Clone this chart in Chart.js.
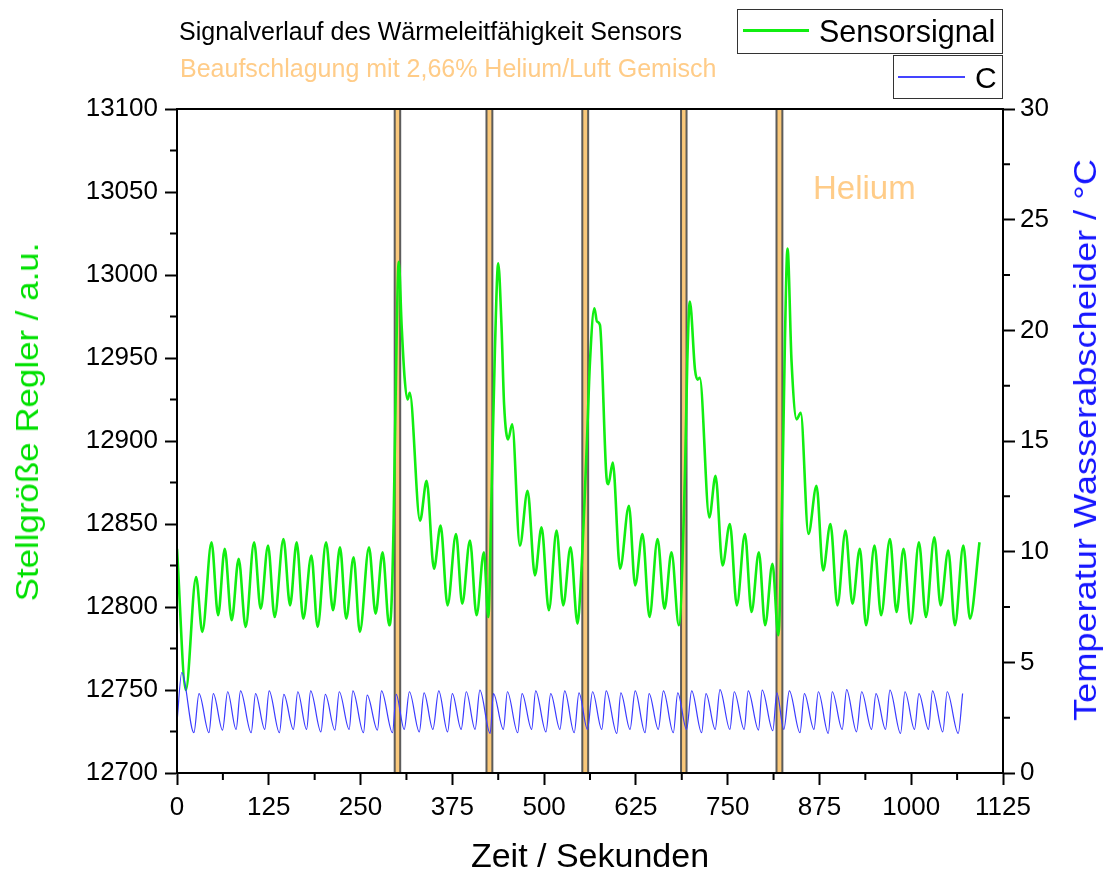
<!DOCTYPE html>
<html>
<head>
<meta charset="utf-8">
<script src="https://cdn.jsdelivr.net/npm/chart.js@4/dist/chart.umd.min.js"></script>
<style>
html,body{margin:0;padding:0;background:#fff;overflow:hidden;}
#wrap{position:relative;width:1104px;height:875px;font-family:"Liberation Sans",Arial,sans-serif;}
#c{position:absolute;left:0;top:0;}
.t{position:absolute;white-space:nowrap;line-height:1;}
.box{position:absolute;border:1.5px solid #333;background:#fff;box-sizing:border-box;}
.ln{position:absolute;}
</style>
</head>
<body>
<div id="wrap">
<canvas id="c" width="1104" height="875"></canvas>
<div class="t" style="left:179px;top:19px;font-size:25px;color:#000;">Signalverlauf des Wärmeleitfähigkeit Sensors</div>
<div class="t" style="left:180px;top:56px;font-size:25px;color:#ffcc88;">Beaufschlagung mit 2,66% Helium/Luft Gemisch</div>
<div class="box" style="left:737px;top:9px;width:266px;height:45px;"></div>
<div class="ln" style="left:743px;top:29px;width:66px;height:3px;background:#11ee11;"></div>
<div class="t" style="left:819px;top:16px;font-size:30.5px;color:#000;">Sensorsignal</div>
<div class="box" style="left:893px;top:55px;width:110px;height:44px;"></div>
<div class="ln" style="left:898px;top:76px;width:67px;height:1.5px;background:#4444ff;"></div>
<div class="t" style="left:975px;top:63px;font-size:30px;color:#000;">C</div>
<div class="t" style="left:813px;top:171px;font-size:33px;color:#ffcc88;">Helium</div>
<div class="t" style="left:27px;top:422px;font-size:32px;color:#00e000;transform:translate(-50%,-50%) rotate(-90deg) scale(1.09,1);">Stellgröße Regler / a.u.</div>
<div class="t" style="left:1085px;top:440px;font-size:32px;color:#1515ff;transform:translate(-50%,-50%) rotate(-90deg) scale(1.13,1);">Temperatur Wasserabscheider / °C</div>
</div>
<script>
// ---- data ----
const signalTime = [0, 12, 26, 34.5, 47, 56, 65, 74.5, 84, 93.5, 105, 114, 124, 133, 145, 154, 163, 172, 183, 191.5, 203, 212.5, 222, 230.5, 240.5, 249, 261.5, 270.5, 280, 289,
  292, 295, 299, 302, 306, 310, 314, 317, 331, 340, 350, 359, 368.5, 380, 388.5, 399, 408, 418, 424,
  428.5, 433, 437.5, 442, 445.5, 451, 456.5, 467, 477.5, 487.5, 496.5, 506.5, 517, 526, 536, 545.5,
  550, 558, 562.5, 568.5, 572, 576, 585, 587.5, 593.5, 603.5, 615.5, 624, 634, 643.5, 654.5, 664, 673.5, 683.5,
  692, 695, 698.5, 705.5, 709, 712, 725, 733.5, 743, 753, 762.5, 773.5, 782.5, 792.5, 801, 811, 819,
  825, 828, 831.5, 837, 844, 849.5, 860, 871, 880, 890, 899.5, 910.5, 920, 930, 938.5, 950, 959, 971, 980,
  989.5, 999.5, 1010.5, 1020, 1031.5, 1040, 1050.5, 1059.5, 1071, 1080, 1093];
const signalValue = [12835, 12750, 12818, 12785, 12839, 12795, 12835, 12792, 12829, 12788, 12839, 12799, 12837, 12794, 12841, 12801, 12839, 12793, 12831, 12788, 12839, 12798, 12836, 12793, 12830, 12785, 12836, 12796, 12833, 12789,
  12800, 12850, 12960, 13008, 12969, 12938, 12925, 12929, 12852, 12876, 12823, 12849, 12801, 12844, 12802, 12840, 12795, 12833, 12794,
  12870, 12955, 13007, 12969, 12922, 12901, 12910, 12837, 12870, 12819, 12848, 12798, 12846, 12801, 12836, 12790,
  12815, 12896, 12948, 12980, 12972, 12970, 12878, 12874, 12887, 12823, 12861, 12813, 12844, 12794, 12841, 12799, 12833, 12789,
  12883, 12948, 12984, 12943, 12937, 12938, 12854, 12879, 12825, 12850, 12801, 12844, 12797, 12833, 12789, 12826, 12783,
  12883, 12961, 13016, 12948, 12913, 12917, 12844, 12873, 12822, 12850, 12801, 12846, 12802, 12835, 12789, 12837, 12795, 12841, 12797,
  12835, 12790, 12839, 12794, 12842, 12801, 12834, 12789, 12837, 12793, 12839];

const tempTime = [0, 6.5, 23, 30, 43.5, 49.5, 62, 69, 80.5, 86.5, 101, 107, 119.5, 125.5, 139.5, 145.5, 158.5, 164.5, 176.5, 182,
  196, 202, 215, 221, 234.5, 239.5, 254, 259, 273, 278.5, 293.5, 298.5, 309.5, 316.5, 330, 336.5, 348.5, 356.5, 368.5, 375,
  387, 394, 406, 412.5, 426.5, 431, 444.5, 450, 464, 470, 483, 488.5, 502.5, 509, 521.5, 528, 541, 547.5, 559, 566,
  578.5, 584.5, 599, 604.5, 617, 624, 637.5, 643, 655.5, 662.5, 676, 682, 694, 701, 714.5, 720.5, 733, 739.5, 753, 759,
  772.5, 778, 792, 797, 811.5, 817, 826.5, 834, 848.5, 854.5, 867.5, 873.5, 887, 892.5, 906, 912, 925.5, 932.5, 946, 952,
  965, 971, 985.5, 991.5, 1004.5, 1010.5, 1023.5, 1029, 1043, 1049, 1064, 1070];
const tempValue = [2.3, 4.54, 1.82, 3.59, 1.82, 3.59, 1.94, 3.67, 1.97, 3.71, 1.82, 3.59, 1.97, 3.71, 1.82, 3.55, 1.97, 3.67, 1.97, 3.71,
  1.86, 3.55, 1.94, 3.67, 1.97, 3.71, 1.82, 3.52, 1.94, 3.71, 1.82, 3.55, 1.97, 3.67, 1.86, 3.62, 1.97, 3.71, 1.86, 3.59,
  1.97, 3.67, 1.97, 3.74, 1.79, 3.59, 1.97, 3.67, 1.82, 3.59, 1.97, 3.71, 1.86, 3.59, 1.97, 3.71, 1.82, 3.62, 1.97, 3.67,
  1.97, 3.71, 1.79, 3.62, 1.97, 3.71, 1.82, 3.59, 1.97, 3.71, 1.82, 3.62, 1.97, 3.71, 1.82, 3.59, 1.97, 3.77, 1.97, 3.67,
  1.97, 3.71, 1.94, 3.74, 1.91, 3.62, 1.97, 3.71, 1.82, 3.59, 1.97, 3.67, 1.79, 3.67, 1.97, 3.77, 1.86, 3.67, 1.97, 3.59,
  1.97, 3.74, 1.79, 3.67, 1.97, 3.59, 1.97, 3.71, 1.86, 3.67, 1.79, 3.59];

const heliumStart = [296.5, 421.5, 552, 686.5, 816.5];
const heliumEnd   = [304, 429.5, 560, 694, 824.5];

const xTicks = [0, 125, 250, 375, 500, 625, 750, 875, 1000, 1125];
const yLeftTicks = [12700, 12750, 12800, 12850, 12900, 12950, 13000, 13050, 13100];
const yRightTicks = [0, 5, 10, 15, 20, 25, 30];

// ---- chart ----
const FAM = '"Liberation Sans", Arial, sans-serif';
const pts = (xs, ys) => xs.map((x, i) => ({x: x, y: ys[i]}));
const mids = arr => arr.slice(1).map((v, i) => (v + arr[i]) / 2);
const yMin = yLeftTicks[0], yMax = yLeftTicks[yLeftTicks.length - 1];

const heliumSets = heliumStart.map((s, i) => ({
  type: 'line', label: 'Helium', yAxisID: 'y', order: 10,
  data: [{x: s, y: yMin}, {x: s, y: yMax}, {x: heliumEnd[i], y: yMax}, {x: heliumEnd[i], y: yMin}],
  borderColor: 'rgba(75,75,75,0.9)', borderWidth: 2, backgroundColor: '#f9c87a',
  fill: 'start', tension: 0, pointRadius: 0
}));

const framePlugin = {
  id: 'frame',
  afterDatasetsDraw(chart) {
    const {ctx, chartArea: a, scales} = chart;
    ctx.save();
    ctx.strokeStyle = '#000';
    ctx.lineWidth = 2;
    ctx.strokeRect(a.left, a.top, a.right - a.left, a.bottom - a.top);
    ctx.beginPath();
    mids(xTicks).forEach(v => { const p = scales.x.getPixelForValue(v); ctx.moveTo(p, a.bottom); ctx.lineTo(p, a.bottom + 7); });
    mids(yLeftTicks).forEach(v => { const p = scales.y.getPixelForValue(v); ctx.moveTo(a.left, p); ctx.lineTo(a.left - 7, p); });
    mids(yRightTicks).forEach(v => { const p = scales.y2.getPixelForValue(v); ctx.moveTo(a.right, p); ctx.lineTo(a.right + 7, p); });
    ctx.stroke();
    ctx.restore();
  }
};

const gridOpts = {drawOnChartArea: false, drawTicks: true, tickLength: 12, tickWidth: 2, tickColor: '#000'};
const borderOpts = {display: true, color: '#000', width: 2};

new Chart(document.getElementById('c'), {
  type: 'line',
  data: {
    datasets: [
      {label: 'Sensorsignal', yAxisID: 'y', order: 1, data: pts(signalTime, signalValue),
       borderColor: '#11ee11', borderWidth: 2.6, cubicInterpolationMode: 'monotone', pointRadius: 0, fill: false},
      {label: 'C', yAxisID: 'y2', order: 0, data: pts(tempTime, tempValue),
       borderColor: '#3b3bff', borderWidth: 1.2, cubicInterpolationMode: 'monotone', pointRadius: 0, fill: false},
      ...heliumSets
    ]
  },
  options: {
    responsive: false,
    animation: false,
    layout: {padding: {top: 109, left: 0, right: 0, bottom: 0}},
    plugins: {legend: {display: false}, tooltip: {enabled: false}, title: {display: false}},
    elements: {point: {radius: 0}},
    scales: {
      x: {
        type: 'linear', position: 'bottom', min: xTicks[0], max: xTicks[xTicks.length - 1],
        afterBuildTicks: s => { s.ticks = xTicks.map(v => ({value: v})); },
        afterFit: s => { s.height = 102; s.paddingLeft = 0; s.paddingRight = 0; },
        grid: gridOpts, border: borderOpts,
        ticks: {color: '#000', font: {family: FAM, size: 26}, padding: 7, maxRotation: 0, autoSkip: false, callback: v => String(v)},
        title: {display: true, text: 'Zeit / Sekunden', color: '#000', font: {family: FAM, size: 34, lineHeight: 1}, padding: {top: 0, bottom: 0}}
      },
      y: {
        type: 'linear', position: 'left', min: yMin, max: yMax,
        afterBuildTicks: s => { s.ticks = yLeftTicks.map(v => ({value: v})); },
        afterFit: s => { s.width = 177; s.paddingTop = 0; s.paddingBottom = 0; },
        grid: gridOpts, border: borderOpts,
        ticks: {color: '#000', font: {family: FAM, size: 26}, padding: 7, autoSkip: false, callback: v => String(v)}
      },
      y2: {
        type: 'linear', position: 'right', min: yRightTicks[0], max: yRightTicks[yRightTicks.length - 1],
        afterBuildTicks: s => { s.ticks = yRightTicks.map(v => ({value: v})); },
        afterFit: s => { s.width = 101; s.paddingTop = 0; s.paddingBottom = 0; },
        grid: gridOpts, border: borderOpts,
        ticks: {color: '#000', font: {family: FAM, size: 26}, padding: 5, autoSkip: false, callback: v => String(v)}
      }
    }
  },
  plugins: [framePlugin]
});
</script>
</body>
</html>
